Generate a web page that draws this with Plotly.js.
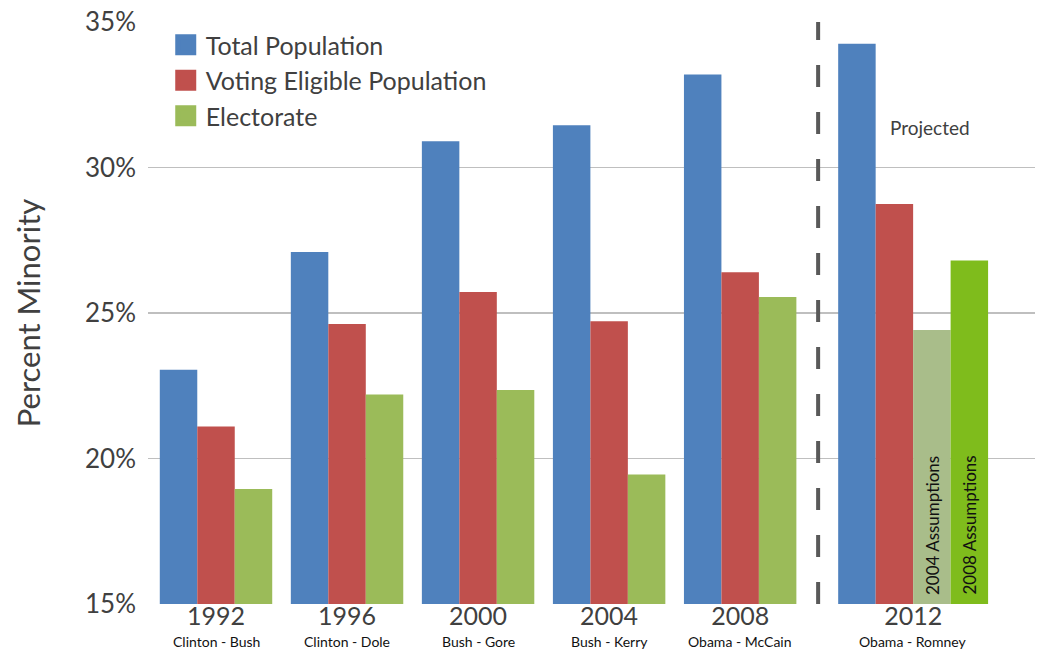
<!DOCTYPE html>
<html>
<head>
<meta charset="utf-8">
<script src="https://cdn.plot.ly/plotly-3.0.1.min.js"></script>
<style>html,body{margin:0;padding:0;background:#fff;}#chart{width:1037px;height:651px;}</style>
</head>
<body>
<div id="chart"></div>
<script>
// ---- data ----
const years = ['1992', '1996', '2000', '2004', '2008', '2012'];
const matchups = ['Clinton - Bush', 'Clinton - Dole', 'Bush - Gore', 'Bush - Kerry', 'Obama - McCain', 'Obama - Romney'];
const seriesNames = ['Total Population', 'Voting Eligible Population', 'Electorate'];
const totalPopulation = [23.05, 27.1, 30.9, 31.45, 33.2, 34.25];
const votingEligible = [21.1, 24.62, 25.72, 24.72, 26.4, 28.75];
const electorate = [18.95, 22.2, 22.35, 19.45, 25.55, 24.42]; // 2012 = 2004 assumptions
const electorate2008Assumptions = [null, null, null, null, null, 26.8];
const assumptionLabels = ['2004 Assumptions', '2008 Assumptions'];
const projectedLabel = 'Projected';

// ---- layout helpers ----
const pos = [0, 1, 2, 3, 4, 5.32];
const w = 0.286;
const nBars = [3, 3, 3, 3, 3, 4];
const off = k => nBars.map(n => -n * w / 2 + k * w);

const FONT = 'Lato, "Open Sans", sans-serif';
const TXT = '#404040';
const colors = ['#4F81BD', '#C0504D', '#9BBB59'];

const traces = [
  {type: 'bar', name: seriesNames[0], x: pos, y: totalPopulation, width: w, offset: off(0),
   marker: {color: colors[0]}, showlegend: false},
  {type: 'bar', name: seriesNames[1], x: pos, y: votingEligible, width: w, offset: off(1),
   marker: {color: colors[1]}, showlegend: false},
  {type: 'bar', name: seriesNames[2], x: pos, y: electorate, width: w, offset: off(2),
   marker: {color: [colors[2], colors[2], colors[2], colors[2], colors[2], '#A9BD8A']}, showlegend: false},
  {type: 'bar', name: assumptionLabels[1], x: pos, y: electorate2008Assumptions, width: w, offset: off(3),
   marker: {color: '#7FBC1C'}, showlegend: false}
];
// legend entries (square swatches)
seriesNames.forEach((n, i) => traces.push({type: 'scatter', mode: 'markers', name: n, x: [null], y: [null],
  marker: {symbol: 'square', size: 16, color: colors[i], line: {color: colors[i], width: 5}}}));

const annotations = [];
matchups.forEach((m, i) => {
  annotations.push({x: pos[i], xref: 'x', y: 0, yref: 'paper', yshift: -37, text: m, showarrow: false,
    font: {family: FONT, size: 14, color: '#111'}, xanchor: 'center', yanchor: 'middle'});
});
annotations.push({x: pos[5] + off(2)[5] + w / 2, xref: 'x', y: 15.25, yref: 'y', text: assumptionLabels[0],
  textangle: -90, showarrow: false, yanchor: 'bottom', font: {family: FONT, size: 17, color: '#111'}});
annotations.push({x: pos[5] + off(3)[5] + w / 2, xref: 'x', y: 15.25, yref: 'y', text: assumptionLabels[1],
  textangle: -90, showarrow: false, yanchor: 'bottom', font: {family: FONT, size: 17, color: '#111'}});
annotations.push({x: pos[5] - 0.19, xref: 'x', y: 31.36, yref: 'y', text: projectedLabel, showarrow: false,
  xanchor: 'left', font: {family: FONT, size: 19, color: TXT}});

const layout = {
  width: 1037, height: 651,
  margin: {l: 148, r: 2, t: 22, b: 47},
  paper_bgcolor: '#fff', plot_bgcolor: '#fff',
  barmode: 'overlay',
  font: {family: FONT, color: TXT},
  xaxis: {range: [-0.519, 6.25], tickmode: 'array', tickvals: pos, ticktext: years,
    tickfont: {family: FONT, size: 25, color: TXT}, showgrid: false, zeroline: false,
    ticks: '', showline: false, ticklabelstandoff: -5},
  yaxis: {range: [15, 35], dtick: 5, tick0: 15, ticksuffix: '%', tickfont: {family: FONT, size: 26, color: TXT},
    showgrid: true, gridcolor: '#BFBFBF', gridwidth: 1.5, zeroline: false, ticks: '', ticklabelstandoff: 11,
    title: {text: 'Percent Minority', font: {family: FONT, size: 31, color: TXT}, standoff: 35}},
  legend: {x: 0.02, y: 1.0, xanchor: 'left', yanchor: 'top', bgcolor: 'rgba(0,0,0,0)',
    font: {family: FONT, size: 25, color: TXT}, itemwidth: 30, tracegroupgap: 0, traceorder: 'normal',
    itemsizing: 'trace'},
  shapes: [{type: 'line', xref: 'x', yref: 'paper', x0: 4.595, x1: 4.595, y0: 0, y1: 1,
    line: {color: '#595959', width: 4, dash: '22px,25px'}}],
  annotations: annotations,
  showlegend: true
};

Plotly.newPlot('chart', traces, layout, {displayModeBar: false, staticPlot: true});
</script>
</body>
</html>
